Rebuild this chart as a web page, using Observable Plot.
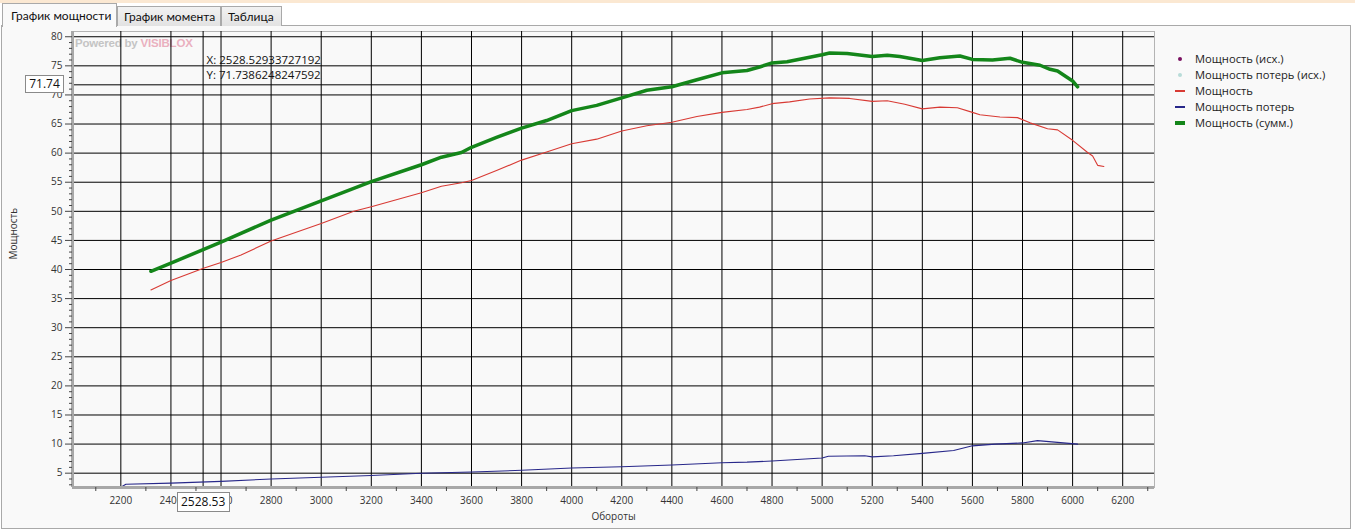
<!DOCTYPE html>
<html>
<head>
<meta charset="utf-8">
<script src="https://cdn.jsdelivr.net/npm/d3@7"></script>
<script src="https://cdn.jsdelivr.net/npm/@observablehq/plot@0.6"></script>
<style>
  html, body { margin: 0; padding: 0; background: #ffffff; }
  #root { position: relative; width: 1355px; height: 531px; overflow: hidden; font-family: "Open Sans", "Noto Sans", sans-serif; }
  .strip { position: absolute; left: 0; top: 0; width: 1355px; height: 3px; background: #fbe8d2; }
  .panel { position: absolute; left: 1px; top: 25px; width: 1348px; height: 502px; border: 1px solid #a9a9a9; background: #f9f9f9; }
  .tab { position: absolute; font-family: Lato, "Open Sans", sans-serif; font-size: 12px; color: #111; border: 1px solid #a9a9a9; border-bottom: none; box-sizing: border-box; padding-left: 6px; line-height: 19px; white-space: nowrap; overflow: hidden; }
  .tab.active { background: #f9f9f9; z-index: 2; height: 24px; top: 3px; line-height: 24px; padding-left: 8px; }
  .tab.other { background: linear-gradient(#f2f2f2, #e2e2e2); height: 20px; top: 6px; }
  #chart { position: absolute; left: 0; top: 0; z-index: 1; }
  .legend { position: absolute; left: 1175px; top: 51px; z-index: 3; font-size: 11.2px; color: #222; }
  .legend .row { position: relative; height: 16px; line-height: 16px; padding-left: 20px; white-space: nowrap; }
  .legend .sym { position: absolute; left: 0; top: 8px; }
  .box { position: absolute; z-index: 3; background: #ffffff; border: 1px solid #8a8a8a; font-size: 12px; color: #111; text-align: center; box-sizing: border-box; }
  .coord { position: absolute; z-index: 3; font-size: 11.5px; color: #111; line-height: 15px; white-space: nowrap; }
  .wm { position: absolute; left: 75px; top: 37px; z-index: 0; font-family: Arial, "Liberation Sans", sans-serif; font-weight: bold; font-size: 11.5px; color: #c4c4c4; letter-spacing: -0.2px; }
  .wm span { color: #eab0bf; }
</style>
</head>
<body>
<div id="root">
  <div class="strip"></div>
  <div class="panel"></div>
  <div class="tab active" style="left:2px;width:115px;">График мощности</div>
  <div class="tab other" style="left:117px;width:104px;">График момента</div>
  <div class="tab other" style="left:221px;width:61px;">Таблица</div>
  <div class="wm">Powered by <span>VISIBLOX</span></div>
  <div id="chart"></div>
  <div class="legend" id="legend"></div>
</div>
<script>
// ---- data ----
const rpmPower = [2320, 2400, 2530, 2600, 2680, 2800, 3000, 3130, 3200, 3400, 3480, 3560, 3600, 3700, 3800, 3900, 4000, 4100, 4200, 4300, 4400, 4500, 4600, 4700, 4750, 4800, 4870, 4950, 5030, 5110, 5200, 5260, 5330, 5400, 5470, 5540, 5600, 5630, 5710, 5780, 5830, 5900, 5940, 6000, 6060, 6080, 6100, 6125];
const power    = [36.5, 38.1, 40.2, 41.2, 42.5, 44.9, 47.9, 50.0, 50.8, 53.2, 54.3, 54.9, 55.3, 57.0, 58.8, 60.2, 61.6, 62.4, 63.8, 64.7, 65.3, 66.3, 67.0, 67.5, 67.9, 68.5, 68.8, 69.3, 69.5, 69.4, 68.9, 69.0, 68.4, 67.6, 67.9, 67.8, 67.0, 66.6, 66.2, 66.1, 65.2, 64.2, 64.0, 62.2, 60.1, 59.5, 57.9, 57.7];

const rpmLoss = [2200, 2220, 2400, 2600, 2800, 3000, 3200, 3400, 3600, 3800, 4000, 4200, 4400, 4600, 4700, 4800, 5000, 5025, 5170, 5200, 5285, 5400, 5525, 5600, 5690, 5800, 5860, 6020];
const loss    = [2.6, 3.1, 3.3, 3.6, 4.0, 4.3, 4.6, 5.0, 5.2, 5.5, 5.9, 6.1, 6.4, 6.8, 6.9, 7.1, 7.6, 7.9, 8.0, 7.8, 8.0, 8.4, 8.9, 9.7, 10.0, 10.2, 10.6, 10.0];

const rpmSum = [2320, 2400, 2600, 2800, 3000, 3200, 3400, 3480, 3560, 3600, 3700, 3800, 3900, 4000, 4100, 4200, 4300, 4400, 4500, 4600, 4700, 4750, 4800, 4860, 4930, 5000, 5030, 5100, 5200, 5260, 5310, 5400, 5470, 5550, 5600, 5680, 5750, 5800, 5870, 5910, 5940, 6000, 6020];
const powerSum = [39.7, 41.1, 44.7, 48.5, 51.8, 55.1, 58.0, 59.3, 60.1, 61.0, 62.7, 64.3, 65.6, 67.3, 68.2, 69.5, 70.8, 71.4, 72.6, 73.8, 74.2, 74.8, 75.5, 75.7, 76.3, 76.9, 77.2, 77.1, 76.6, 76.8, 76.6, 75.9, 76.4, 76.7, 76.1, 76.0, 76.3, 75.6, 75.1, 74.4, 74.1, 72.4, 71.4];

const xMajorTicks = [2200, 2400, 2600, 2800, 3000, 3200, 3400, 3600, 3800, 4000, 4200, 4400, 4600, 4800, 5000, 5200, 5400, 5600, 5800, 6000, 6200];
const xMinorTicks = [2100, 2300, 2500, 2700, 2900, 3100, 3300, 3500, 3700, 3900, 4100, 4300, 4500, 4700, 4900, 5100, 5300, 5500, 5700, 5900, 6100, 6300];
const yMajorTicks = [5, 10, 15, 20, 25, 30, 35, 40, 45, 50, 55, 60, 65, 70, 75, 80];
const yMinorTicks = d3.range(3, 81).filter(v => v % 5 !== 0);

const crossX = 2528.52933727192;
const crossY = 71.7386248247592;

const xLabel = "Обороты";
const yLabel = "Мощность";

const legendNames = ["Мощность (исх.)", "Мощность потерь (исх.)", "Мощность", "Мощность потерь", "Мощность (сумм.)"];
const legendKinds = ["dot", "dot", "line", "line", "thick"];
const legendColors = ["#7a1060", "#b8dcd8", "#d83a34", "#28288a", "#14861a"];

// ---- chart ----
const axisColor = "#444";
const chart = Plot.plot({
  width: 1355,
  height: 531,
  marginLeft: 72,
  marginRight: 201,
  marginTop: 31,
  marginBottom: 44,
  style: { background: "transparent", fontFamily: "'Open Sans', 'Noto Sans', sans-serif", fontSize: "10px", color: "#333", overflow: "visible" },
  x: { domain: [2007, 6327] },
  y: { domain: [2.54, 80.9] },
  marks: [
    Plot.frame({ stroke: "#b4b4b4", strokeWidth: 1 }),
    Plot.ruleX(xMajorTicks, { stroke: "#000", strokeWidth: 1 }),
    Plot.ruleY(yMajorTicks, { stroke: "#000", strokeWidth: 1 }),
    Plot.ruleX([crossX], { stroke: "#000", strokeWidth: 1 }),
    Plot.ruleY([crossY], { stroke: "#000", strokeWidth: 1 }),
    Plot.line(loss, { x: rpmLoss, y: loss, stroke: legendColors[3], strokeWidth: 1.1 }),
    Plot.line(power, { x: rpmPower, y: power, stroke: legendColors[2], strokeWidth: 1.1 }),
    Plot.line(powerSum, { x: rpmSum, y: powerSum, stroke: legendColors[4], strokeWidth: 3.5, strokeLinejoin: "round", strokeLinecap: "round" }),
    Plot.ruleX([2007], { stroke: "#a8a8a8", strokeWidth: 3 }),
    Plot.ruleY([2.54], { stroke: "#a8a8a8", strokeWidth: 3 }),
    Plot.axisY(yMajorTicks, { anchor: "left", tickSize: 7, tickPadding: 3, stroke: axisColor, fill: "#333", label: null }),
    Plot.axisY(yMinorTicks, { anchor: "left", tickSize: 3, tickPadding: 0, stroke: axisColor, tickFormat: () => "", label: null }),
    Plot.axisX(xMajorTicks, { anchor: "bottom", tickSize: 0, tickPadding: 9, fill: "#333", tickFormat: d => String(d), label: null }),
    Plot.axisX(xMinorTicks, { anchor: "bottom", tickSize: 4, tickPadding: 0, stroke: axisColor, tickFormat: () => "", label: null }),
    Plot.text([yLabel], { frameAnchor: "left", dx: -59, rotate: -90, fontSize: 10, fill: "#333" }),
    Plot.text([xLabel], { frameAnchor: "bottom", dy: 32, fontSize: 10, fill: "#333" })
  ]
});
document.getElementById("chart").appendChild(chart);

const sx = chart.scale("x");
const sy = chart.scale("y");
const root = document.getElementById("root");

// crosshair value boxes
const px = sx.apply(crossX);
const py = sy.apply(crossY);
const yBox = document.createElement("div");
yBox.className = "box";
yBox.textContent = crossY.toFixed(2);
Object.assign(yBox.style, { left: "25px", top: (py - 9) + "px", width: "39px", height: "18px", lineHeight: "16px" });
root.appendChild(yBox);

const xBox = document.createElement("div");
xBox.className = "box";
xBox.textContent = crossX.toFixed(2);
Object.assign(xBox.style, { left: (px - 26) + "px", top: "492px", width: "53px", height: "20px", lineHeight: "18px" });
root.appendChild(xBox);

const coord = document.createElement("div");
coord.className = "coord";
coord.innerHTML = "X: " + crossX + "<br>Y: " + crossY;
Object.assign(coord.style, { left: (px + 4) + "px", top: "52px" });
root.appendChild(coord);

// legend
const legend = document.getElementById("legend");
legendNames.forEach((name, i) => {
  const row = document.createElement("div");
  row.className = "row";
  const sym = document.createElement("div");
  sym.className = "sym";
  const k = legendKinds[i];
  if (k === "dot") {
    Object.assign(sym.style, { left: "3px", top: "6px", width: "4px", height: "4px", borderRadius: "2px", background: legendColors[i] });
  } else {
    const h = k === "thick" ? 4 : 1.5;
    Object.assign(sym.style, { left: "0px", top: (8 - h / 2) + "px", width: "10px", height: h + "px", background: legendColors[i] });
  }
  row.appendChild(sym);
  row.appendChild(document.createTextNode(name));
  legend.appendChild(row);
});
</script>
</body>
</html>
